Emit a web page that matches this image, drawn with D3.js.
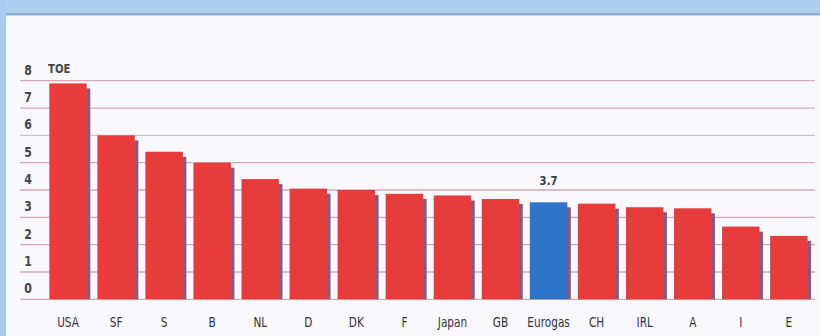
<!DOCTYPE html>
<html><head><meta charset="utf-8">
<script src="https://cdn.jsdelivr.net/npm/d3@7"></script>
<style>
html,body{margin:0;padding:0;background:#fff;}
svg{display:block;}
text{font-family:"DejaVu Sans",sans-serif;}
</style></head>
<body>
<svg id="chart" width="820" height="336"></svg>
<script>
const categories = ["USA","SF","S","B","NL","D","DK","F","Japan","GB","Eurogas","CH","IRL","A","I","E"];
const values = [7.9, 6.0, 5.4, 5.0, 4.4, 4.05, 4.0, 3.86, 3.8, 3.67, 3.55, 3.5, 3.37, 3.33, 2.66, 2.32];
const highlight = ["Eurogas"];
const yTicks = [0,1,2,3,4,5,6,7,8];
const unitLabel = "TOE";
const annotations = [{category:"Eurogas", text:"3.7"}];

const svg = d3.select("#chart");
const W = 820, H = 336;
const NARROW = 0.78;

// frame
svg.append("rect").attr("x",0).attr("y",0).attr("width",W).attr("height",H).attr("fill","#f9f8fc");
svg.append("rect").attr("x",0).attr("y",0).attr("width",W).attr("height",14).attr("fill","#abd0f0");
svg.append("rect").attr("x",0).attr("y",13).attr("width",W).attr("height",2.5).attr("fill","#93aecb");
svg.append("rect").attr("x",0).attr("y",0).attr("width",6).attr("height",H).attr("fill","#a9cdec");

const y = d3.scaleLinear().domain([0,8]).range([299.3, 80.7]);
const x = d3.scaleBand().domain(categories).range([49.3, 807.6]).paddingInner(0.22).paddingOuter(0);

// gridlines
svg.append("g").selectAll("line").data(yTicks).join("line")
  .attr("x1",20).attr("x2",815)
  .attr("y1",d=>y(d)).attr("y2",d=>y(d))
  .attr("stroke",d=>d===6?"#d0c4cc":"#d9a9b2").attr("stroke-width",1.3);

// y labels
svg.append("g").selectAll("text").data(yTicks).join("text")
  .attr("transform",d=>`translate(28,${y(d)-11}) scale(${NARROW},1)`)
  .attr("dy","0.35em")
  .attr("text-anchor","middle").attr("font-size",14).attr("font-weight","bold")
  .attr("fill","#45454d").text(d=>d);

svg.append("text").attr("transform",`translate(48,${y(8)-12}) scale(${NARROW},1)`).attr("dy","0.35em")
  .attr("font-size",13).attr("font-weight","bold").attr("fill","#45454d").text(unitLabel);

const data = categories.map((c,i)=>({c, v:values[i]}));

// shadows
svg.append("g").selectAll("rect").data(data).join("rect")
  .attr("x",d=>x(d.c)+x.bandwidth()-0.5)
  .attr("y",d=>y(d.v)+5)
  .attr("width",4)
  .attr("height",d=>y(0)-y(d.v)-5)
  .attr("fill","#8a5a7e");

// bars
svg.append("g").selectAll("rect").data(data).join("rect")
  .attr("x",d=>x(d.c)).attr("y",d=>y(d.v))
  .attr("width",x.bandwidth()).attr("height",d=>y(0)-y(d.v))
  .attr("fill",d=>highlight.includes(d.c)?"#2e74c8":"#e83b3c");

// annotations
svg.append("g").selectAll("text").data(annotations).join("text")
  .attr("transform",d=>`translate(${x(d.category)+x.bandwidth()/2},${y(values[categories.indexOf(d.category)])-22}) scale(${NARROW},1)`)
  .attr("dy","0.35em")
  .attr("text-anchor","middle").attr("font-size",13).attr("font-weight","bold")
  .attr("fill","#3a3a42").text(d=>d.text);

// x labels
svg.append("g").selectAll("text").data(categories).join("text")
  .attr("transform",d=>`translate(${x(d)+x.bandwidth()/2},322) scale(${NARROW},1)`)
  .attr("dy","0.35em")
  .attr("text-anchor","middle").attr("font-size",13.5)
  .attr("fill","#33333c").text(d=>d);
</script>
</body></html>
